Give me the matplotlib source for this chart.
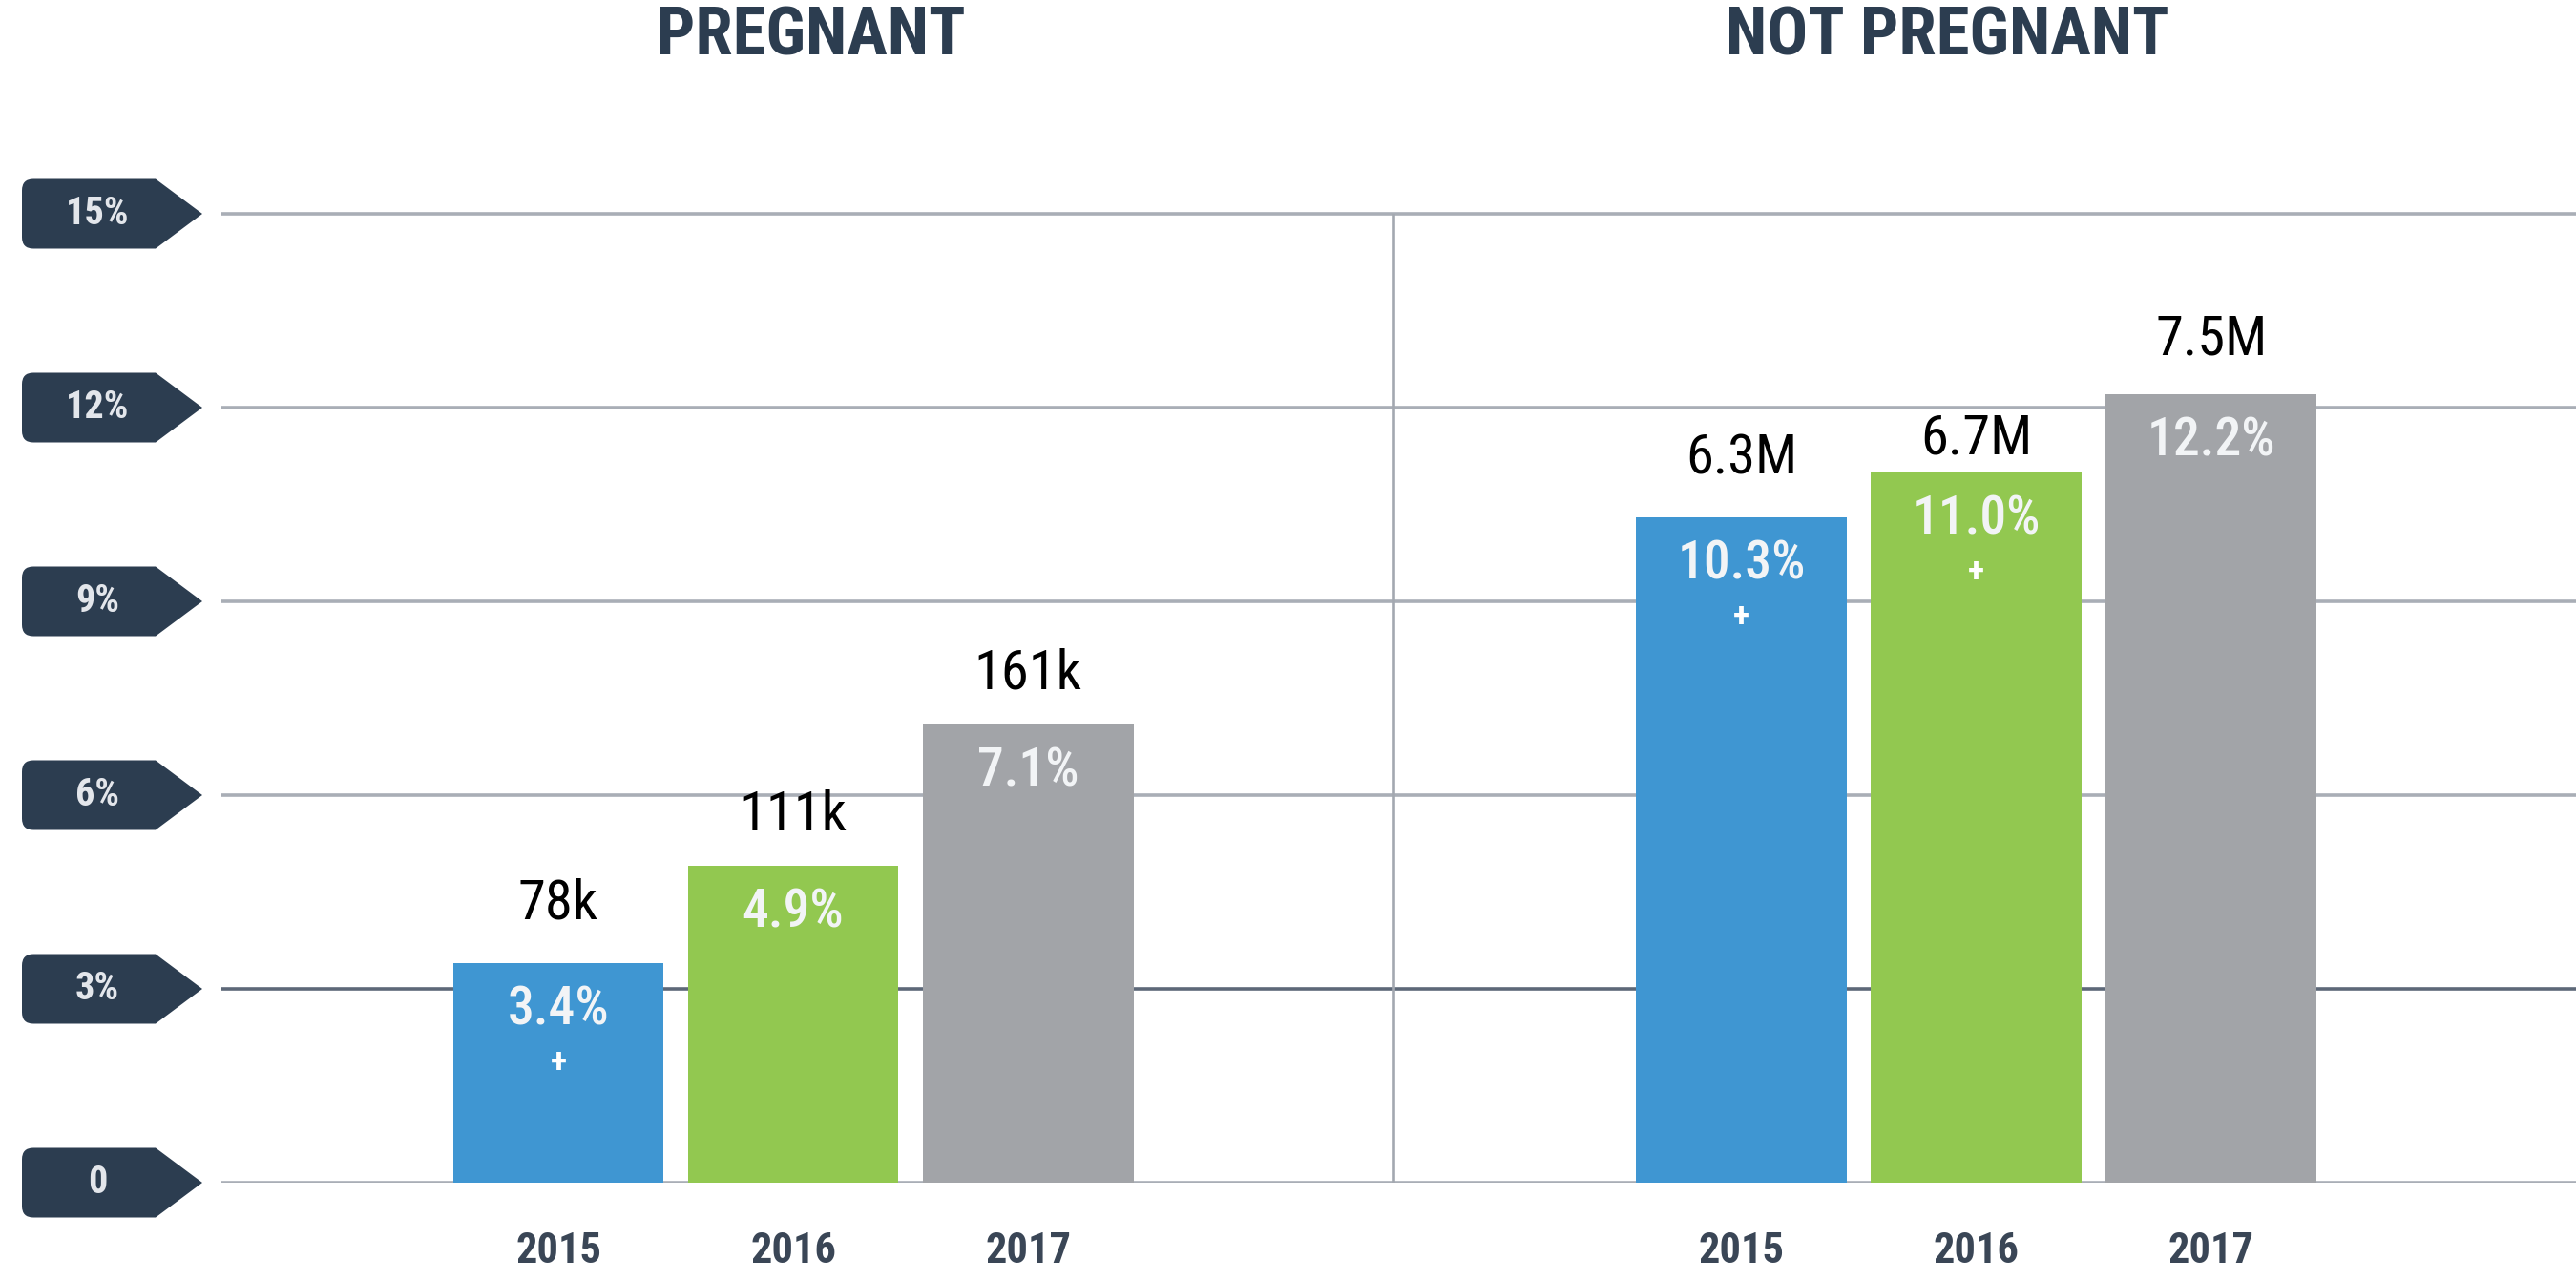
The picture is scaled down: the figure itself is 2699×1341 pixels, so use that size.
import matplotlib
matplotlib.use('Agg')
import matplotlib.pyplot as plt
from matplotlib import font_manager as fm
from matplotlib.path import Path
from matplotlib.patches import PathPatch
from matplotlib.transforms import blended_transform_factory

# ---------------- data ----------------
groups = ['PREGNANT', 'NOT PREGNANT']
years = ['2015', '2016', '2017']
pregnant_pct = [3.4, 4.9, 7.1]
not_pregnant_pct = [10.3, 11.0, 12.2]
pregnant_counts = ['78k', '111k', '161k']
not_pregnant_counts = ['6.3M', '6.7M', '7.5M']
pregnant_sig = [True, False, False]
not_pregnant_sig = [True, True, False]
yticks = [0, 3, 6, 9, 12, 15]
ytick_labels = ['0', '3%', '6%', '9%', '12%', '15%']

# ---------------- style ----------------
bar_colors = ['#3f96d2', '#92c850', '#a2a4a8']
navy = '#2c3d50'
grid_light = '#a9aeb6'
grid_dark = '#5d6878'
count_gap_px = [[62, 53, 53], [61, 35, 57]]

names = {f.name for f in fm.fontManager.ttflist}
cands = ['Roboto Condensed', 'DejaVu Sans Condensed', 'Liberation Sans Narrow',
         'Open Sans Condensed', 'Noto Sans Condensed', 'DejaVu Sans']
NARROW = [c for c in cands if c in names] or ['DejaVu Sans']
NARROW = [NARROW[0], 'DejaVu Sans']

W, H = 2699, 1341
DPI = 100
fig = plt.figure(figsize=(W / DPI, H / DPI), dpi=DPI)
fig.patch.set_facecolor('white')
ax = fig.add_axes([232 / W, (H - 1239) / H, 1 - 232 / W, 1239 / H])
px_per_unit = 203 / 3
ax.set_ylim(0, 1239 / px_per_unit)
ax.set_xlim(-1.435, 8.593)
ax.axis('off')

# gridlines
for v in yticks:
    ax.axhline(v, color=grid_dark if v == 3 else grid_light, lw=2.6, zorder=1)

group_step = 5.04
divider_x = 3.557
ax.vlines(divider_x, 0, max(yticks), color='#a3a8b0', lw=2.6, zorder=1)

values = [pregnant_pct, not_pregnant_pct]
counts = [pregnant_counts, not_pregnant_counts]
sigs = [pregnant_sig, not_pregnant_sig]
bar_w = 0.898

for g in range(len(groups)):
    xs = [i + g * group_step for i in range(len(years))]
    ax.bar(xs, values[g], width=bar_w, color=bar_colors, zorder=2)
    for i, x in enumerate(xs):
        v = values[g][i]
        ax.text(x, v + count_gap_px[g][i] / px_per_unit, counts[g][i],
                ha='center', va='center', fontsize=42, color='black',
                family=NARROW, fontstretch='condensed', zorder=3)
        pct_y = v - 49 / px_per_unit
        ax.text(x, pct_y, f'{v:.1f}%', ha='center', va='center',
                fontsize=40, color='#f2f4f6', fontweight='medium',
                family=NARROW, fontstretch='condensed', zorder=3)
        if sigs[g][i]:
            ax.text(x, pct_y - 56 / px_per_unit, '+', ha='center', va='center',
                    fontsize=26, color='white', fontweight='bold',
                    family=NARROW, zorder=3)
        ax.text(x, -72 / px_per_unit, years[i], ha='center', va='center',
                fontsize=32, color='#3a4656', fontweight='bold',
                family=NARROW, fontstretch='condensed', clip_on=False)

# group titles
title_x_px = [850, 2040]
for g, name in enumerate(groups):
    fig.text(title_x_px[g] / W, 1 - 38 / H, name, ha='center', va='center',
             fontsize=51, color=navy, fontweight='bold', family=NARROW,
             fontstretch='condensed')

# y tick tags
tr = blended_transform_factory(fig.transFigure, ax.transData)
x0, xb, xt = 23 / W, 163 / W, 212 / W
rx, ry = 12 / W, 12 / px_per_unit
half = 36.5 / px_per_unit
for v, lab in zip(yticks, ytick_labels):
    yc = v
    top, bot = yc + half, yc - half
    verts = [(x0 + rx, top), (xb, top), (xt, yc), (xb, bot), (x0 + rx, bot),
             (x0, bot), (x0, bot + ry), (x0, top - ry), (x0, top), (x0 + rx, top),
             (x0 + rx, top)]
    codes = [Path.MOVETO, Path.LINETO, Path.LINETO, Path.LINETO, Path.LINETO,
             Path.CURVE3, Path.CURVE3, Path.LINETO, Path.CURVE3, Path.CURVE3,
             Path.CLOSEPOLY]
    patch = PathPatch(Path(verts, codes), facecolor=navy, edgecolor='none',
                      transform=tr, clip_on=False, zorder=4)
    ax.add_patch(patch)
    ax.text(102 / W, yc, lab, transform=tr, ha='center', va='center',
            fontsize=29, color='#e3e6eb', fontweight='bold', family=NARROW,
            fontstretch='condensed', clip_on=False, zorder=5)

fig.savefig('out.png', dpi=DPI, facecolor='white')
